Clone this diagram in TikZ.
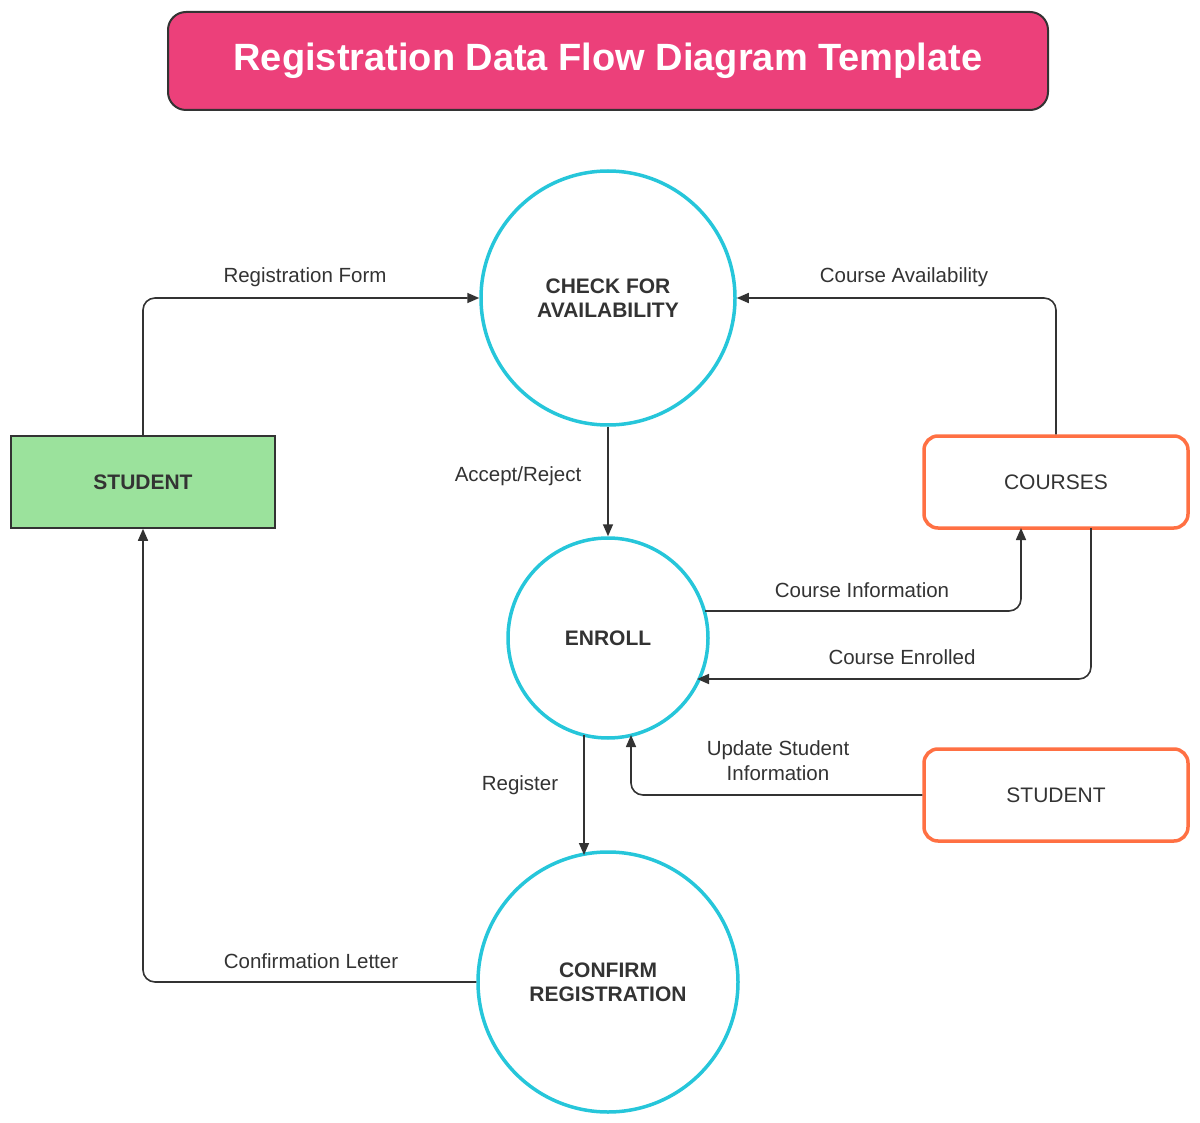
\documentclass[tikz,border=0pt]{standalone}
\usepackage{fontspec}
\setmainfont{Liberation Sans}
\usetikzlibrary{arrows.meta}
\definecolor{pinkc}{HTML}{EC407A}
\definecolor{cyanc}{HTML}{26C6DA}
\definecolor{orangec}{HTML}{FF7043}
\definecolor{greenc}{HTML}{9BE29C}
\definecolor{txt}{HTML}{333333}
\begin{document}
\begin{tikzpicture}[x=1pt,y=-1pt,
  proc/.style={circle,draw=cyanc,line width=3.5pt,font=\fontsize{21}{24}\selectfont\bfseries,text=txt,align=center,inner sep=0pt},
  store/.style={rectangle,rounded corners=14pt,draw=orangec,line width=3.5pt,minimum width=264pt,minimum height=92pt,font=\fontsize{21}{24}\selectfont,text=txt},
  flow/.style={draw=txt,line width=1.6pt,rounded corners=12pt,-{Triangle[length=12pt,width=10pt]}},
  lbl/.style={font=\fontsize{20.5}{25}\selectfont,text=txt,align=center}]
\useasboundingbox (0,0) rectangle (1200,1123);
\node[draw=txt,line width=2pt,fill=pinkc,rounded corners=18pt,minimum width=880pt,minimum height=98pt,text=white,font=\fontsize{38}{44}\selectfont\bfseries] (title) at (608,61) {Registration Data Flow Diagram Template};
\node[proc,minimum size=254pt] (check) at (608,298) {CHECK FOR\\AVAILABILITY};
\node[proc,minimum size=200pt] (enroll) at (608,638) {ENROLL};
\node[proc,minimum size=260pt] (confirm) at (608,982) {CONFIRM\\REGISTRATION};
\node[rectangle,draw=txt,line width=1.6pt,fill=greenc,minimum width=264pt,minimum height=92pt,font=\fontsize{21}{24}\selectfont\bfseries,text=txt] (student) at (143,482) {STUDENT};
\node[store] (courses) at (1056,482) {COURSES};
\node[store] (student2) at (1056,795) {STUDENT};
\coordinate (s2) at (student2.west);
\draw[flow] (student.north) |- (check.west);
\draw[flow] (courses.north) |- (check.east);
\draw[flow] (check.south) -- (enroll.north);
\draw[flow] (705,611) -| (1021,528);
\draw[flow] (1091,528) |- (697,679);
\draw[flow] (student2.west) -| (631,735);
\draw[flow] (584,735) -- (584,855);
\draw[flow] (confirm.west) -| (student.south);
\node[lbl] (l1) at (305,277) {Registration Form};
\node[lbl] (l2) at (904,277) {Course Availability};
\node[lbl] (l3) at (518,476) {Accept/Reject};
\node[lbl] (l4) at (862,590) {Course Information};
\node[lbl] (l5) at (902,657) {Course Enrolled};
\node[lbl] (l6) at (778,761) {Update Student\\Information};
\node[lbl] (l7) at (520,785) {Register};
\node[lbl] (l8) at (311,961) {Confirmation Letter};
\end{tikzpicture}
\end{document}
